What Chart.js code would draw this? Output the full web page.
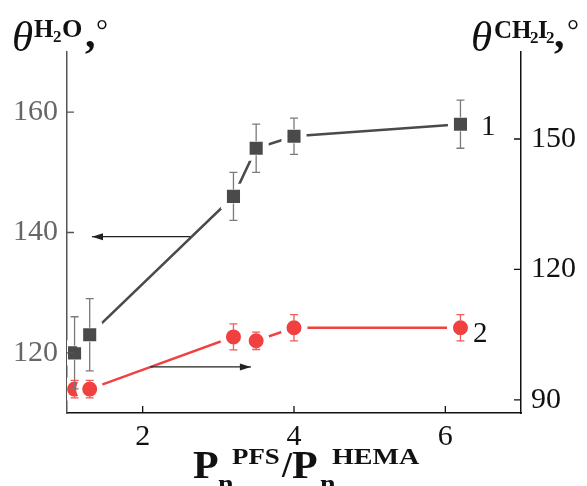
<!DOCTYPE html>
<html>
<head>
<meta charset="utf-8">
<script src="https://cdn.jsdelivr.net/npm/chart.js@4.4.0/dist/chart.umd.min.js"></script>
<style>
  html, body { margin: 0; padding: 0; background: #fff; }
  #wrap { width: 587px; height: 486px; }
</style>
</head>
<body>
<div id="wrap"><canvas id="grafico" width="587" height="486"></canvas></div>
<script>
// Pn(PFS)/Pn(HEMA)
const ratio = [1.1, 1.3, 3.2, 3.5, 4.0, 6.2];
// curve 1: water contact angle (left axis)
const waterAngle = [120, 123, 146, 154, 156, 158];
const waterErr = [6, 6, 4, 4, 3, 4];
// curve 2: diiodomethane contact angle (right axis)
const diiodoAngle = [92.5, 92.5, 104.5, 103.6, 106.6, 106.6];
const diiodoErr = [2, 2, 3, 2, 3, 3];
// tick labels
const xTicks = [2, 4, 6];
const leftTicks = [120, 140, 160];
const rightTicks = [90, 120, 150];

const SERIF = '"Liberation Serif", "DejaVu Serif", serif';

function pts(ys) {
    return ratio.map((x, i) => ({ x: x, y: ys[i] }));
}

// error bars, drawn only outside of the marker
const errorBars = {
    id: 'errorBars',
    afterDatasetsDraw(chart) {
        const ctx = chart.ctx;
        const sets = [
            { err: waterErr, vals: waterAngle, scale: 'y', color: '#7a7a7a', gap: 7 },
            { err: diiodoErr, vals: diiodoAngle, scale: 'y2', color: '#f05a5a', gap: 7 }
        ];
        ctx.save();
        ctx.lineWidth = 1.3;
        sets.forEach(s => {
            const ys = chart.scales[s.scale];
            ctx.strokeStyle = s.color;
            ratio.forEach((x, i) => {
                const px = chart.scales.x.getPixelForValue(x);
                const py = ys.getPixelForValue(s.vals[i]);
                const top = ys.getPixelForValue(s.vals[i] + s.err[i]);
                const bot = ys.getPixelForValue(s.vals[i] - s.err[i]);
                ctx.beginPath();
                if (py - s.gap > top) { ctx.moveTo(px, top); ctx.lineTo(px, py - s.gap); }
                if (py + s.gap < bot) { ctx.moveTo(px, py + s.gap); ctx.lineTo(px, bot); }
                ctx.moveTo(px - 4, top); ctx.lineTo(px + 4, top);
                ctx.moveTo(px - 4, bot); ctx.lineTo(px + 4, bot);
                ctx.stroke();
            });
        });
        ctx.restore();
    }
};

// inward ticks, arrows, titles
const extras = {
    id: 'extras',
    afterDraw(chart) {
        const ctx = chart.ctx;
        const a = chart.chartArea;
        const sx = chart.scales.x, sy = chart.scales.y, sy2 = chart.scales.y2;
        ctx.save();
        ctx.lineWidth = 1.3;
        ctx.strokeStyle = '#111';
        ctx.beginPath();
        xTicks.forEach(v => { const p = sx.getPixelForValue(v); ctx.moveTo(p, a.bottom); ctx.lineTo(p, a.bottom - 7); });
        ctx.stroke();
        ctx.strokeStyle = '#555';
        ctx.beginPath();
        leftTicks.forEach(v => { const p = sy.getPixelForValue(v); ctx.moveTo(a.left, p); ctx.lineTo(a.left + 7, p); });
        ctx.stroke();
        ctx.strokeStyle = '#111';
        ctx.beginPath();
        rightTicks.forEach(v => { const p = sy2.getPixelForValue(v); ctx.moveTo(a.right, p); ctx.lineTo(a.right - 7, p); });
        ctx.stroke();

        // arrows pointing to the axis of each curve
        function arrow(x1, y1, x2, y2) {
            ctx.strokeStyle = '#222';
            ctx.fillStyle = '#222';
            ctx.lineWidth = 1.3;
            ctx.beginPath(); ctx.moveTo(x1, y1); ctx.lineTo(x2, y2); ctx.stroke();
            const d = x2 > x1 ? 1 : -1;
            ctx.beginPath();
            ctx.moveTo(x2, y2);
            ctx.lineTo(x2 - d * 11, y2 - 3.5);
            ctx.lineTo(x2 - d * 11, y2 + 3.5);
            ctx.closePath(); ctx.fill();
        }
        const ay1 = sy.getPixelForValue(139.3);
        arrow(sx.getPixelForValue(2.63), ay1, sx.getPixelForValue(1.33), ay1);
        const ay2 = sy2.getPixelForValue(97.6);
        arrow(sx.getPixelForValue(2.10), ay2, sx.getPixelForValue(3.43), ay2);

        // curve numbers
        ctx.fillStyle = '#111';
        ctx.font = '29px ' + SERIF;
        ctx.textBaseline = 'alphabetic';
        ctx.fillText('1', 481, 135);
        ctx.fillText('2', 473, 342);

        function txt(s, x, y, font, sxf) {
            ctx.font = font;
            ctx.save();
            ctx.translate(x, y);
            ctx.scale(sxf || 1, 1);
            ctx.fillText(s, 0, 0);
            ctx.restore();
        }
        // left title
        txt('\u03B8', 12, 51, 'italic 43px ' + SERIF);
        txt('H', 34, 37, 'bold 25px ' + SERIF);
        txt('2', 53, 42, 'bold 17px ' + SERIF);
        txt('O', 62, 37, 'bold 25px ' + SERIF, 1.05);
        txt(',', 85, 47, 'bold 42px ' + SERIF);
        txt('\u00B0', 96, 40, '30px ' + SERIF);
        // right title
        txt('\u03B8', 471, 51, 'italic 43px ' + SERIF);
        txt('CH', 494, 38, 'bold 25px ' + SERIF);
        txt('2', 530, 43, 'bold 17px ' + SERIF);
        txt('I', 538, 38, 'bold 25px ' + SERIF);
        txt('2', 546, 43, 'bold 17px ' + SERIF);
        txt(',', 554, 47, 'bold 42px ' + SERIF);
        txt('\u00B0', 567, 40, '30px ' + SERIF);
        // x title
        txt('P', 193, 478, 'bold 40px ' + SERIF, 1.05);
        txt('n', 218, 493, 'bold 28px ' + SERIF);
        txt('PFS', 232, 464, 'bold 24px ' + SERIF, 1.12);
        txt('/', 282, 477, 'bold 36px ' + SERIF);
        txt('P', 292, 478, 'bold 40px ' + SERIF, 1.05);
        txt('n', 320, 493, 'bold 28px ' + SERIF);
        txt('HEMA', 332, 464, 'bold 24px ' + SERIF, 1.17);
        ctx.restore();
    }
};

const ctx = document.getElementById('grafico');

new Chart(ctx, {
    type: 'line',
    data: {
        datasets: [{
            label: '1',
            data: pts(waterAngle),
            yAxisID: 'y',
            borderColor: '#4a4a4a',
            borderWidth: 2.5,
            pointStyle: 'rect',
            pointRadius: 13.5,
            pointBackgroundColor: '#4a4a4a',
            pointBorderColor: '#ffffff',
            pointBorderWidth: 6,
            tension: 0
        }, {
            label: '2',
            data: pts(diiodoAngle),
            yAxisID: 'y2',
            borderColor: '#f04040',
            borderWidth: 2.5,
            pointStyle: 'circle',
            pointRadius: 10.5,
            pointBackgroundColor: '#f04040',
            pointBorderColor: '#ffffff',
            pointBorderWidth: 6,
            tension: 0
        }]
    },
    options: {
        responsive: false,
        animation: false,
        events: [],
        layout: { padding: { top: 52 } },
        plugins: { legend: { display: false }, tooltip: { enabled: false } },
        scales: {
            x: {
                type: 'linear',
                min: 1, max: 7,
                grid: { display: false, drawTicks: false },
                border: { color: '#111', width: 1.5 },
                afterBuildTicks: s => { s.ticks = xTicks.map(v => ({ value: v })); },
                afterFit: s => { s.height = 73; },
                ticks: { color: '#111', padding: 6, font: { family: SERIF, size: 30 } }
            },
            y: {
                position: 'left',
                min: 110, max: 170,
                grid: { display: false, drawTicks: false },
                border: { color: '#555', width: 1.5 },
                afterBuildTicks: s => { s.ticks = leftTicks.map(v => ({ value: v })); },
                afterFit: s => { s.width = 67; },
                ticks: { color: '#666', padding: 9, font: { family: SERIF, size: 30 } }
            },
            y2: {
                position: 'right',
                min: 87, max: 170,
                grid: { display: false, drawTicks: false },
                border: { color: '#111', width: 1.5 },
                afterBuildTicks: s => { s.ticks = rightTicks.map(v => ({ value: v })); },
                afterFit: s => { s.width = 66; },
                ticks: { color: '#111', padding: 10, font: { family: SERIF, size: 30 } }
            }
        }
    },
    plugins: [errorBars, extras]
});
</script>
</body>
</html>
